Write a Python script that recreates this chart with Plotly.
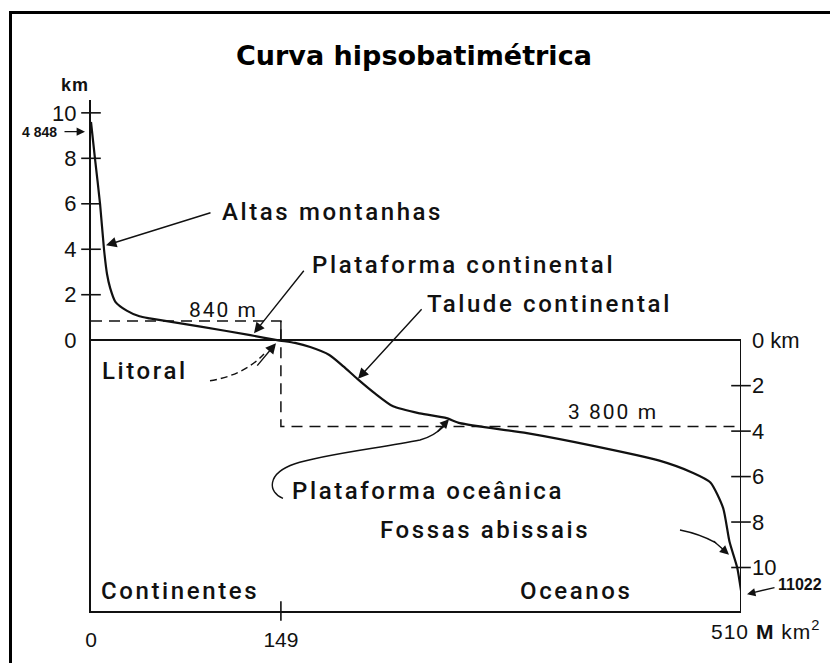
import plotly.graph_objects as go

# ---------------- data ----------------
area_mkm2 = [0, 3.1, 7.1, 10.2, 12.6, 15, 19, 28, 38, 46, 86, 125, 146,
             160, 172, 187, 198, 209, 223, 237, 258, 279, 289.5, 342, 394,
             446, 472, 486, 496, 501, 507, 510]
elev_km = [9.6, 8.0, 6.0, 4.0, 2.9, 2.3, 1.7, 1.3, 1.05, 0.96, 0.6, 0.22, 0.0,
           -0.12, -0.30, -0.65, -1.15, -1.70, -2.35, -2.91, -3.22, -3.43, -3.65,
           -4.09, -4.65, -5.30, -5.83, -6.26, -7.39, -8.87, -10.0, -11.02]

continent_area = 149        # M km2
total_area = 510            # M km2
mean_height_km = 0.84       # 840 m
mean_depth_km = -3.8        # 3 800 m

left_ticks = [0, 2, 4, 6, 8, 10]
left_ticktext = ["0", "2", "4", "6", "8", "10"]
right_ticks = [0, -2, -4, -6, -8, -10]
right_ticktext = ["0 km", "2", "4", "6", "8", "10"]
x_ticks = [0, 149]
x_ticktext = ["0", "149"]

# ---------------- layout helpers (page pixel -> coords) ----------------
OFF = 8                      # default page body margin
W, H = 838, 663
PL, PR, PT, PB = 91, 741, 100, 617      # plot area in page pixels
L, T = PL - OFF, PT - OFF
R, B = W - PR, H - PB
FW, FH = W - OFF, H - OFF
PW, PH = PR - PL, PB - PT
SEA = 343
PXKM = 23.0
Y1 = (SEA - PT) / PXKM
Y0 = -(PB - SEA) / PXKM
X0, X1 = 0, total_area


def dx(px):
    return X0 + (px - PL) / PW * (X1 - X0)


def dy(py):
    return Y1 - (py - PT) / PH * (Y1 - Y0)


def pxp(px):
    return (px - PL) / PW


def pyp(py):
    return (PB - py) / PH


INK = "#111111"
LAB = "Liberation Sans, Arial, Helvetica, sans-serif"
MED = "Roboto, Liberation Sans, Arial, sans-serif"


def spaced(s, sp=3.0):
    return f'<span style="letter-spacing:{sp}px">{s}</span>'


fig = go.Figure()

# mean height / depth dashed guide lines
fig.add_trace(go.Scatter(
    x=[0, continent_area, continent_area, total_area],
    y=[mean_height_km, mean_height_km, mean_depth_km, mean_depth_km],
    mode="lines", line=dict(color=INK, width=1.5, dash="11px,7px"),
    hoverinfo="skip", showlegend=False))

# hypsographic curve
fig.add_trace(go.Scatter(
    x=area_mkm2, y=elev_km, mode="lines",
    line=dict(color=INK, width=2.2, shape="spline", smoothing=0.6),
    showlegend=False))

# crossing tick marks on left axis
fig.add_trace(go.Scatter(
    x=[0] * (len(left_ticks) - 1), y=left_ticks[1:], mode="markers",
    marker=dict(symbol="line-ew", size=14, line=dict(color=INK, width=1.6)),
    cliponaxis=False, hoverinfo="skip", showlegend=False))
# crossing tick marks on right axis
fig.add_trace(go.Scatter(
    x=[total_area] * (len(right_ticks) - 1), y=right_ticks[1:], mode="markers",
    marker=dict(symbol="line-ew", size=14, line=dict(color=INK, width=1.6)),
    cliponaxis=False, hoverinfo="skip", showlegend=False, yaxis="y2"))
# tick at 149 on bottom axis
fig.add_trace(go.Scatter(
    x=[continent_area], y=[Y0], mode="markers",
    marker=dict(symbol="line-ns", size=14, line=dict(color=INK, width=1.6)),
    cliponaxis=False, hoverinfo="skip", showlegend=False))

shapes = []
# right axis line (below sea level)
shapes.append(dict(type="line", xref="x", yref="y", x0=total_area, x1=total_area,
                   y0=0, y1=Y0, line=dict(color=INK, width=2)))
# small solid riser at the 840 m corner
shapes.append(dict(type="line", xref="x", yref="y", x0=continent_area, x1=continent_area,
                   y0=mean_height_km, y1=0, line=dict(color=INK, width=1.4)))
# outer frame
shapes.append(dict(type="rect", xref="paper", yref="paper",
                   x0=pxp(10.5), x1=pxp(860), y0=pyp(11.5), y1=pyp(690),
                   line=dict(color="black", width=3)))


def path(pts, cmds):
    s = ""
    i = 0
    for c, n in cmds:
        s += c + " " + " ".join(f"{dx(px):.3f},{dy(py):.4f}" for px, py in pts[i:i + n]) + " "
        i += n
    return s.strip()


# curved arrow to "Plataforma oceânica"
po_pts = [(283, 503), (268, 497), (266, 478), (295, 468),
          (320, 459), (380, 452), (420, 444),
          (434, 440), (440, 434), (444, 430)]
shapes.append(dict(type="path", xref="x", yref="y",
                   path=path(po_pts, [("M", 1), ("C", 3), ("C", 3), ("C", 3)]),
                   line=dict(color=INK, width=1.4)))
# curved arrow for "Fossas abissais"
fa_pts = [(680, 535), (700, 539), (716, 548)]
shapes.append(dict(type="path", xref="x", yref="y",
                   path=path(fa_pts, [("M", 1), ("Q", 2)]),
                   line=dict(color=INK, width=1.4)))
# dashed curved arrow for "Litoral"
li_pts = [(210, 384), (230, 381), (250, 372), (264, 357)]
shapes.append(dict(type="path", xref="x", yref="y",
                   path=path(li_pts, [("M", 1), ("C", 3)]),
                   line=dict(color=INK, width=1.4, dash="7px,4px")))

ann = []


def arrow(tail, tip, size=1.5):
    ann.append(dict(x=pxp(tip[0]), y=pyp(tip[1]), xref="paper", yref="paper",
                    ax=tail[0] - tip[0], ay=tail[1] - tip[1], text="",
                    showarrow=True, arrowhead=2, arrowsize=size, arrowwidth=1.4,
                    arrowcolor=INK, standoff=0, startstandoff=0))


def label(text, px, py, size=24, anchor="left", weight=500, sp=2.6, family=MED):
    t = spaced(text, sp) if sp else text
    ann.append(dict(x=pxp(px), y=pyp(py), xref="paper", yref="paper", text=t,
                    showarrow=False, xanchor=anchor, yanchor="middle",
                    font=dict(family=family, size=size, color=INK, weight=weight)))


# title
ann.append(dict(x=pxp(414), y=pyp(55), xref="paper", yref="paper",
                text="<b>Curva hipsobatimétrica</b>", showarrow=False,
                xanchor="center", yanchor="middle",
                font=dict(family="DejaVu Sans, Verdana, sans-serif", size=27, color="black")))

label("Altas montanhas", 220, 213)
label("Plataforma continental", 310, 267)
label("840 m", 187, 312, size=21, sp=2, weight=400)
label("Talude continental", 425, 306)
label("Litoral", 100, 374)
label("3 800 m", 566, 416, size=21, sp=2, weight=400)
label("Plataforma oceânica", 290, 496)
label("Fossas abissais", 378, 535)
label("Continentes", 99, 597)
label("Oceanos", 518, 597)
label("km", 59, 85, size=18, weight=700, sp=1, family=LAB)
label("4 848", 20, 132, size=14, weight=700, sp=0, family=LAB)
label("11022", 776, 590, size=16, weight=700, sp=0, family=LAB)
label("510 <b>M</b> km<sup>2</sup>", 709, 636, size=21, sp=1, weight=400, family=LAB)

arrow((212, 214), (106, 247))
arrow((305, 272), (254, 336))
arrow((423, 311), (358, 382))
arrow((256, 370), (276, 346))
arrow((436, 437), (449, 423), size=1.3)
arrow((712, 545), (729, 560), size=1.3)
arrow((63, 132), (85, 132), size=1.2)
arrow((776, 593), (747, 600), size=1.2)

fig.update_layout(
    width=FW, height=FH,
    margin=dict(l=L, r=R, t=T, b=B, pad=0),
    paper_bgcolor="white", plot_bgcolor="white",
    showlegend=False,
    shapes=shapes,
    annotations=ann,
    xaxis=dict(range=[X0, X1], showgrid=False, zeroline=False,
               showline=True, linecolor=INK, linewidth=2,
               tickvals=x_ticks, ticktext=x_ticktext, ticks="",
               ticklabelstandoff=9,
               tickfont=dict(family=LAB, size=21, color=INK)),
    yaxis=dict(range=[Y0, Y1], showgrid=False,
               zeroline=True, zerolinecolor=INK, zerolinewidth=2,
               showline=True, linecolor=INK, linewidth=2,
               tickvals=left_ticks, ticktext=left_ticktext, ticks="",
               ticklabelstandoff=8,
               tickfont=dict(family=LAB, size=22, color=INK)),
    yaxis2=dict(range=[Y0, Y1], overlaying="y", side="right", anchor="x",
                showgrid=False, zeroline=False, showline=False,
                tickvals=right_ticks, ticktext=right_ticktext, ticks="",
                ticklabelstandoff=10,
                tickfont=dict(family=LAB, size=22, color=INK)),
)

fig.write_html("out.html")
